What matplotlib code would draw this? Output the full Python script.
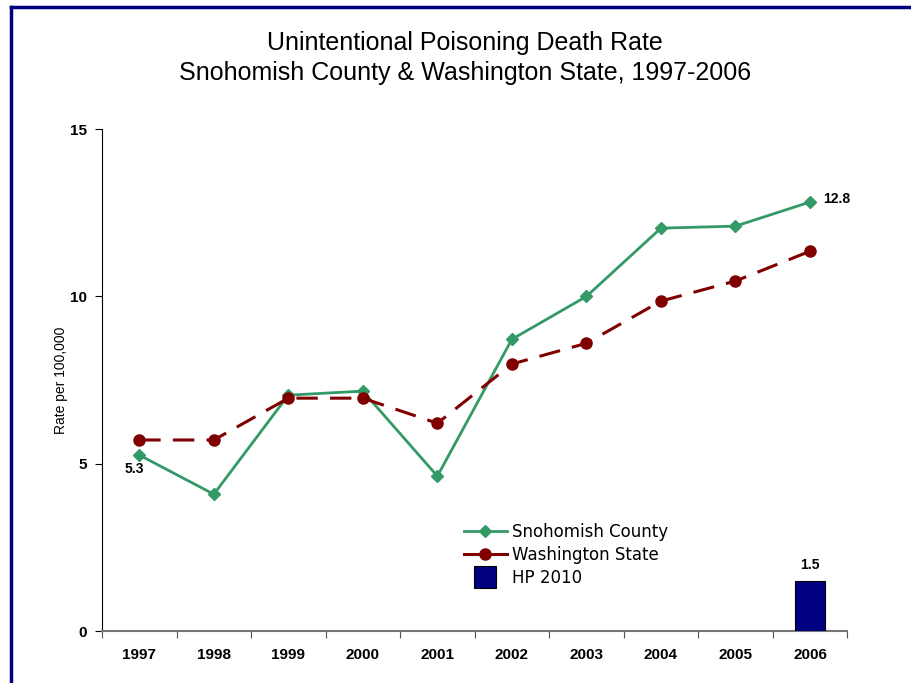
import matplotlib.pyplot as plt
from matplotlib.lines import Line2D

years = ["1997", "1998", "1999", "2000", "2001", "2002", "2003", "2004", "2005", "2006"]
snohomish = [5.26, 4.09, 7.05, 7.17, 4.63, 8.72, 10.0, 12.04, 12.1, 12.82]
washington = [5.71, 5.71, 6.96, 6.96, 6.21, 7.98, 8.6, 9.86, 10.46, 11.35]
hp2010_year = "2006"
hp2010 = 1.5

green = "#339966"
red = "#800000"
navy = "#000080"

fig = plt.figure(figsize=(9.11, 6.83), dpi=100)
ax = fig.add_axes([0.112, 0.076, 0.818, 0.735])

x = list(range(len(years)))
ax.plot(x, snohomish, color=green, lw=2, marker="D", ms=6)
ax.plot(x, washington, color=red, lw=2.2, ls=(0, (7, 4)), marker="o", ms=8)
bx = years.index(hp2010_year)
ax.bar([bx], [hp2010], width=0.4, color=navy, edgecolor="black", lw=0.8, zorder=3)

# value labels
ax.text(0 - 0.07, snohomish[0] - 0.42, "5.3", ha="center", va="center",
        fontsize=10, fontweight="bold", family="Liberation Sans")
ax.text(9 + 0.36, snohomish[-1] + 0.1, "12.8", ha="center", va="center",
        fontsize=10, fontweight="bold", family="Liberation Sans")
ax.text(bx, hp2010 + 0.47, "1.5", ha="center", va="center",
        fontsize=10, fontweight="bold", family="Liberation Sans")

ax.set_xlim(-0.5, 9.5)
ax.set_ylim(0, 15)
ax.set_yticks([0, 5, 10, 15])
ax.set_xticks([i - 0.5 for i in range(len(years) + 1)])
ax.set_xticklabels([])
ax.set_xticks(x, minor=True)
ax.set_xticklabels(years, minor=True, fontsize=11, fontweight="bold",
                   family="Liberation Sans")
ax.tick_params(axis="x", which="major", direction="out", length=5, color="#555555")
ax.tick_params(axis="x", which="minor", length=0, pad=12)
ax.tick_params(axis="y", direction="out", length=5, labelsize=11, pad=6)
for lab in ax.get_yticklabels():
    lab.set_fontweight("bold")
    lab.set_family("Liberation Sans")

ax.spines["top"].set_visible(False)
ax.spines["right"].set_visible(False)
ax.spines["bottom"].set_color("#777777")
ax.spines["bottom"].set_linewidth(1.5)
ax.set_ylabel("Rate per 100,000", fontsize=10, family="Liberation Sans")
ax.yaxis.set_label_coords(-0.046, 0.5)

handles = [
    Line2D([], [], color=green, lw=2, marker="D", ms=6),
    Line2D([], [], color=red, lw=2.2, marker="o", ms=8),
    Line2D([], [], ls="none", marker="s", ms=16, mfc=navy, mec="black", mew=0.8),
]
ax.legend(handles, ["Snohomish County", "Washington State", "HP 2010"],
          loc="upper left", bbox_to_anchor=(0.465, 0.245), frameon=False,
          fontsize=12, handlelength=2.6, handletextpad=0.3, labelspacing=0.3)

fig.text(0.51, 0.915, "Unintentional Poisoning Death Rate\nSnohomish County & Washington State, 1997-2006",
         ha="center", va="center", fontsize=18, family="Liberation Sans",
         linespacing=1.3)

# frame around the chart area
fig.add_artist(Line2D([11 / 911, 11 / 911], [0, 1 - 6.5 / 683], color=navy, lw=2.5,
                      transform=fig.transFigure))
fig.add_artist(Line2D([11 / 911, 1], [1 - 6.5 / 683, 1 - 6.5 / 683], color=navy, lw=2.5,
                      transform=fig.transFigure))

fig.savefig("out.png", dpi=100)
